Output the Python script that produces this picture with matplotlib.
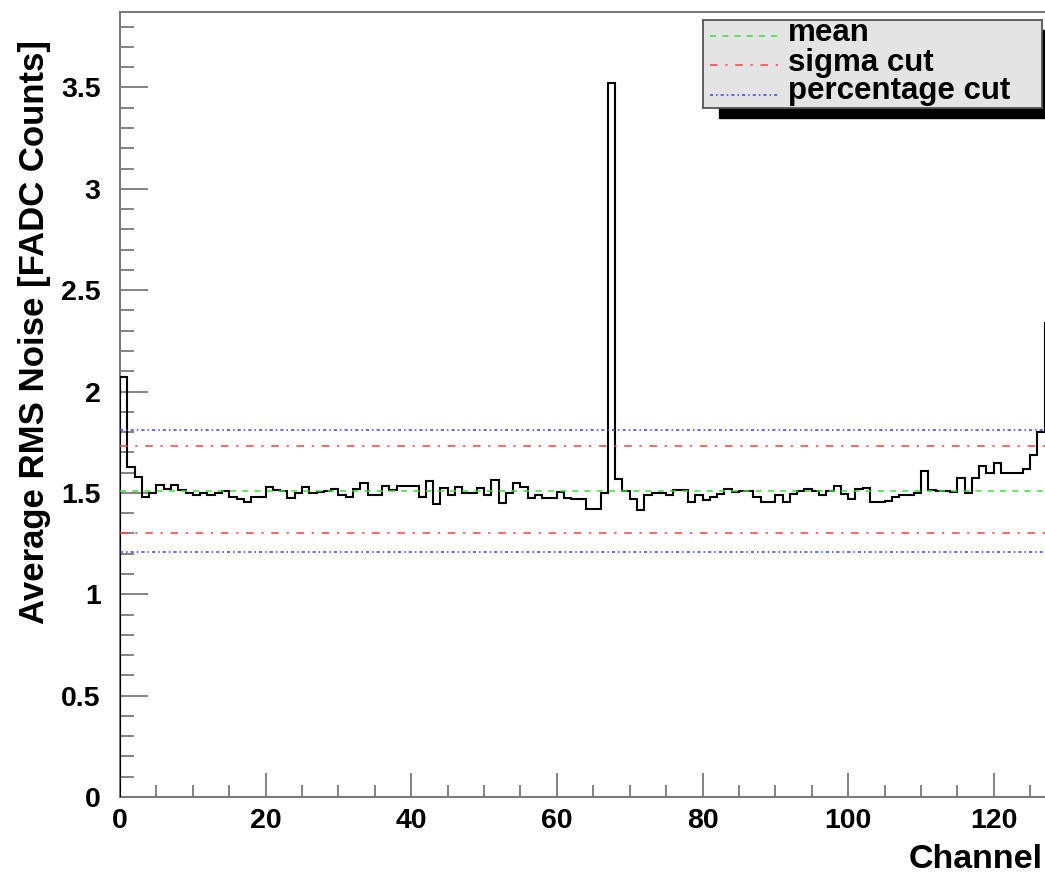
import numpy as np
import matplotlib
matplotlib.use("Agg")
import matplotlib.pyplot as plt
from matplotlib.patches import Rectangle
from matplotlib.lines import Line2D
from matplotlib.ticker import MultipleLocator, FuncFormatter

# average RMS noise per FADC channel (128 channels, bin i covers [i, i+1])
channel_edges = np.arange(0, 129)
rms_noise = [
    2.07, 1.63, 1.58, 1.48, 1.50, 1.54, 1.52, 1.54, 1.515, 1.50,
    1.49, 1.50, 1.49, 1.50, 1.51, 1.48, 1.47, 1.455, 1.48, 1.48,
    1.53, 1.515, 1.51, 1.475, 1.50, 1.53, 1.50, 1.505, 1.51, 1.52,
    1.49, 1.48, 1.52, 1.55, 1.49, 1.49, 1.535, 1.515, 1.535, 1.535,
    1.535, 1.48, 1.56, 1.445, 1.525, 1.49, 1.53, 1.50, 1.50, 1.525,
    1.49, 1.565, 1.45, 1.50, 1.55, 1.53, 1.475, 1.49, 1.475, 1.475,
    1.505, 1.475, 1.47, 1.47, 1.42, 1.42, 1.50, 3.52, 1.57, 1.51,
    1.47, 1.415, 1.49, 1.50, 1.50, 1.49, 1.515, 1.515, 1.455, 1.49,
    1.465, 1.48, 1.495, 1.52, 1.505, 1.51, 1.51, 1.48, 1.455, 1.455,
    1.49, 1.455, 1.495, 1.51, 1.52, 1.51, 1.49, 1.51, 1.535, 1.495,
    1.47, 1.52, 1.525, 1.455, 1.455, 1.46, 1.48, 1.49, 1.49, 1.50,
    1.61, 1.515, 1.51, 1.51, 1.505, 1.575, 1.50, 1.575, 1.635, 1.60,
    1.645, 1.60, 1.60, 1.60, 1.62, 1.685, 1.80, 2.34,
]

mean_level = 1.51
sigma_cut = [1.30, 1.73]
percentage_cut = [1.21, 1.81]

legend_labels = ["mean", "sigma cut", "percentage cut"]

W, H = 1045, 874
FONT = "Liberation Sans"
AXIS_GRAY = "#7a7a7a"


def fx(px):
    return px / W


def fy(py):
    return 1 - py / H


fig = plt.figure(figsize=(W / 100, H / 100), dpi=100, facecolor="white")
# frame runs a little past the right edge of the canvas
ax = fig.add_axes([fx(120), fy(797), fx(1052) - fx(120), fy(12) - fy(797)])

ax.stairs(rms_noise, channel_edges, color="black", linewidth=1.5, zorder=3)

ax.axhline(mean_level, color="#3ddc3d", linewidth=1.1,
           linestyle=(0, (4, 4)), zorder=4)
for level in sigma_cut:
    ax.axhline(level, color="#ff4040", linewidth=1.1,
               linestyle=(0, (5, 5, 1.5, 5)), zorder=4)
for level in percentage_cut:
    ax.axhline(level, color="#3c3cff", linewidth=1.1,
               linestyle=(0, (2, 2, 1, 2)), zorder=4)

ax.set_xlim(0, 128)
ax.set_ylim(0, 3.872)

ax.xaxis.set_major_locator(MultipleLocator(20))
ax.xaxis.set_minor_locator(MultipleLocator(5))
ax.yaxis.set_major_locator(MultipleLocator(0.5))
ax.yaxis.set_minor_locator(MultipleLocator(0.1))
ax.yaxis.set_major_formatter(FuncFormatter(lambda v, p: "%g" % v))
ax.xaxis.set_major_formatter(FuncFormatter(lambda v, p: "%g" % v))

ax.tick_params(axis="both", which="both", direction="in", color=AXIS_GRAY,
               width=1.3, labelsize=20.5)
ax.tick_params(axis="y", which="major", length=20, pad=14)
ax.tick_params(axis="y", which="minor", length=10)
ax.tick_params(axis="x", which="major", length=17, pad=8)
ax.tick_params(axis="x", which="minor", length=8.5)
ax.tick_params(top=False, right=False, which="both")
for lab in ax.get_xticklabels() + ax.get_yticklabels():
    lab.set_fontfamily(FONT)
    lab.set_fontweight("bold")

for side in ["left", "bottom", "top", "right"]:
    ax.spines[side].set_color(AXIS_GRAY)
    ax.spines[side].set_linewidth(1.5)

# axis titles
fig.text(fx(35), fy(40), "Average RMS Noise [FADC Counts]", rotation=90,
         ha="center", va="top", fontsize=25, fontweight="bold",
         family=FONT)
fig.text(fx(1043), fy(868), "Channel", ha="right", va="baseline",
         fontsize=24.5, fontweight="bold", family=FONT)

# legend box with shadow
box_x0, box_x1, box_y0, box_y1 = 703, 1042, 20, 108
fig.add_artist(Rectangle((fx(box_x0 + 16), fy(box_y1 + 10)),
                         fx(box_x1) - fx(box_x0), fy(box_y0) - fy(box_y1),
                         transform=fig.transFigure, facecolor="black",
                         edgecolor="black", zorder=10))
fig.add_artist(Rectangle((fx(box_x0), fy(box_y1)),
                         fx(box_x1) - fx(box_x0), fy(box_y0) - fy(box_y1),
                         transform=fig.transFigure, facecolor="#e4e4e4",
                         edgecolor="#555555", linewidth=1.3, zorder=11))

entry_styles = [
    ("#3ddc3d", (0, (4, 4))),
    ("#ff4040", (0, (5, 5, 1.5, 5))),
    ("#3c3cff", (0, (2, 2, 1, 2))),
]
line_rows = [36, 65, 95]
text_rows = [41, 71, 99]
for label, (color, ls), ly, ty in zip(legend_labels, entry_styles,
                                       line_rows, text_rows):
    fig.add_artist(Line2D([fx(710), fx(780)], [fy(ly), fy(ly)],
                          transform=fig.transFigure, color=color,
                          linewidth=1.1, linestyle=ls, zorder=12))
    fig.text(fx(788), fy(ty), label, ha="left", va="baseline",
             fontsize=22.5, fontweight="bold", family=FONT, zorder=12)

fig.savefig("out.png", dpi=100, facecolor="white")
